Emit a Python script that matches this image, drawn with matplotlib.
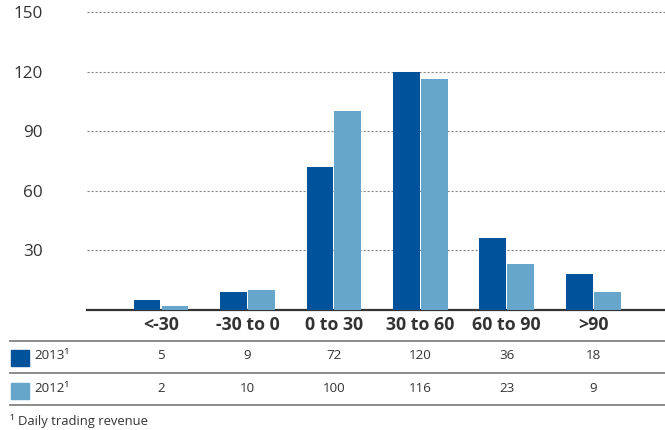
import matplotlib
matplotlib.use("Agg")
import matplotlib.pyplot as plt
import matplotlib.transforms as mtransforms
from matplotlib.lines import Line2D
from matplotlib.patches import Rectangle
import numpy as np

# ── Data ──────────────────────────────────────────────────────────────────────
categories = ["<-30", "-30 to 0", "0 to 30", "30 to 60", "60 to 90", ">90"]
values_2013 = [5, 9, 72, 120, 36, 18]
values_2012 = [2, 10, 100, 116, 23, 9]
series_labels = ["2013\u00b9", "2012\u00b9"]
y_ticks = [30, 60, 90, 120, 150]
footnote = "Daily trading revenue"

DARK = "#00539b"
LIGHT = "#66a6cb"
TEXT = "#333333"
W, H = 665, 430

plt.rcParams["font.family"] = ["Open Sans", "DejaVu Sans"]

fig = plt.figure(figsize=(W / 100, H / 100), dpi=100)

# axes placed in pixel terms: baseline y=309.5, left x=87
left, right = 87, 665
base_y, top_y = 309.5, 2.1
ax = fig.add_axes([left / W, (H - base_y) / H, (right - left) / W, (base_y - top_y) / H])

x = np.arange(len(categories))
bw = 0.31
ax.bar(x - bw / 2 - 0.006, values_2013, bw, color=DARK, zorder=3)
ax.bar(x + bw / 2 + 0.006, values_2012, bw, color=LIGHT, zorder=3)

ax.set_xlim(-0.856, 5.83)
ax.set_ylim(0, 155)
ax.set_yticks(y_ticks)
ax.set_yticklabels([str(t) for t in y_ticks], fontsize=12.3, color=TEXT)
ax.tick_params(axis="y", length=0, pad=32)
ax.set_xticks([])
ax.yaxis.grid(True, linestyle=(0, (2, 1.6)), color="#8a8a8a", linewidth=0.8)
ax.set_axisbelow(True)
for s in ["top", "right", "left"]:
    ax.spines[s].set_visible(False)
ax.spines["bottom"].set_color("#333333")
ax.spines["bottom"].set_linewidth(1.6)

# ── Table below the chart ─────────────────────────────────────────────────────
def fy(py):
    return (H - py) / H

trans = mtransforms.blended_transform_factory(ax.transData, fig.transFigure)

for xi, cat in zip(x, categories):
    fig.text(xi, fy(325), cat, transform=trans, ha="center", va="center",
             fontsize=12.8, fontweight="bold", color=TEXT)

for row_y, vals in [(355.5, values_2013), (388.5, values_2012)]:
    for xi, v in zip(x, vals):
        fig.text(xi, fy(row_y), str(v), transform=trans, ha="center", va="center",
                 fontsize=9.6, color=TEXT)

for ly in [341, 373, 405]:
    fig.add_artist(Line2D([10 / W, 1.0], [fy(ly), fy(ly)], color="#8c8c8c",
                          linewidth=1.4, transform=fig.transFigure))

for (row_y, col, lab) in [(357.5, DARK, series_labels[0]), (390.5, LIGHT, series_labels[1])]:
    fig.add_artist(Rectangle((11 / W, fy(row_y + 8)), 18 / W, 16 / H, color=col,
                             transform=fig.transFigure))
    fig.text(34 / W, fy(row_y - 2), lab, ha="left", va="center", fontsize=9.6, color=TEXT)

fig.text(10 / W, fy(421), "\u00b9 " + footnote, ha="left", va="center", fontsize=9.4, color=TEXT)

fig.savefig("out.png", dpi=100)
